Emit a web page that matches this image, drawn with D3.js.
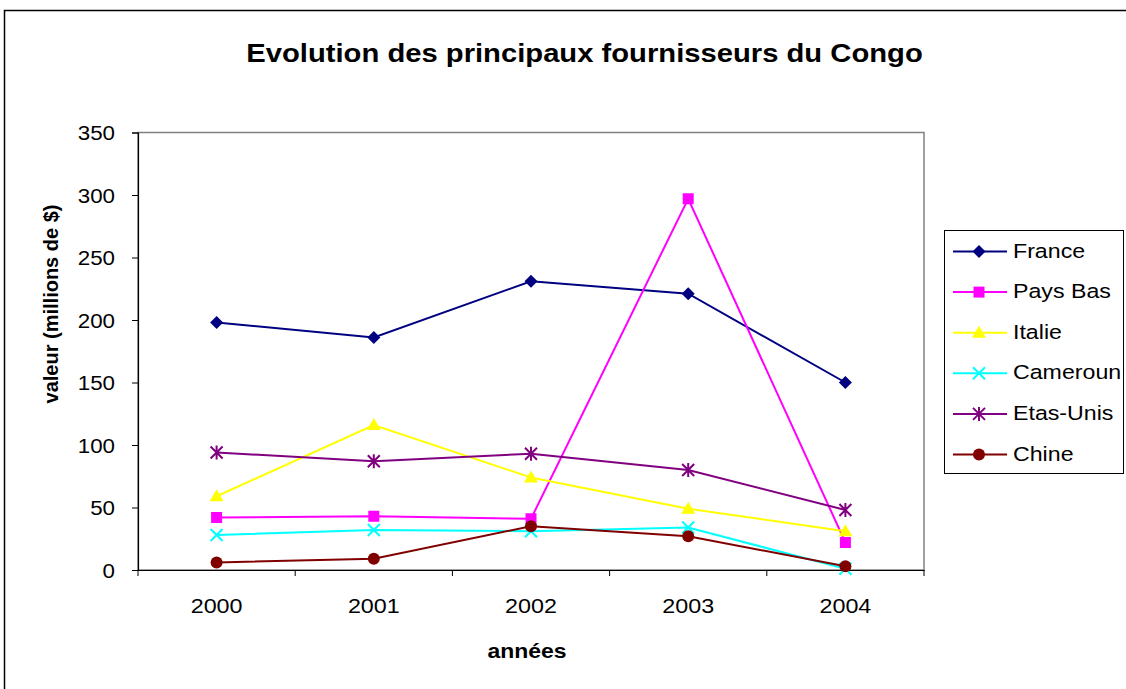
<!DOCTYPE html>
<html><head><meta charset="utf-8">
<script src="https://cdn.jsdelivr.net/npm/d3@7"></script>
<style>body{margin:0;background:#fff}svg{display:block;font-family:"Liberation Sans",Arial,sans-serif}</style>
</head><body><svg id="c" width="1126" height="689"></svg>
<script>
const years = ["2000","2001","2002","2003","2004"];
const yTicks = [0,50,100,150,200,250,300,350];
const france = [198,186,231,221,150];
const paysBas = [42,43,41,297,22];
const italie = [59,116,74,49,31];
const cameroun = [28,32,31,34,1];
const etatsUnis = [94,87,93,80,48];
const chine = [6,9,35,27,3];
const seriesNames = ["France","Pays Bas","Italie","Cameroun","Etas-Unis","Chine"];
const seriesValues = [france,paysBas,italie,cameroun,etatsUnis,chine];
const colors = ["#000080","#FF00FF","#FFFF00","#00FFFF","#800080","#800000"];
const markers = ["diamond","square","triangle","x","star","circle"];

function stretch(sel, k){
  sel.each(function(){
    const len = this.getComputedTextLength();
    d3.select(this).attr("textLength", len*k).attr("lengthAdjust","spacingAndGlyphs");
  });
}

const svg = d3.select("#c");
svg.append("rect").attr("x",4.5).attr("y",10.5).attr("width",1140).attr("height",700)
  .attr("fill","#fff").attr("stroke","#000").attr("stroke-width",1.5);

const L=138, R=924, T=132.5, B=570;
const x = d3.scaleBand().domain(years).range([L,R]);
const y = d3.scaleLinear().domain([0,350]).range([B,T]);

svg.append("rect").attr("x",L).attr("y",T).attr("width",R-L).attr("height",B-T)
  .attr("fill","none").attr("stroke","#808080").attr("stroke-width",1.5);

const title = svg.append("text").attr("x",584.5).attr("y",62).attr("text-anchor","middle")
  .attr("font-size",25.5).attr("font-weight","bold").text("Evolution des principaux fournisseurs du Congo");
stretch(title, 1.145);

const yAx = svg.append("g").attr("transform",`translate(${L},0)`)
  .call(d3.axisLeft(y).tickValues(yTicks).tickSize(6).tickPadding(17));
yAx.selectAll("text").attr("font-size",20.5).attr("font-family","Liberation Sans, Arial").attr("fill","#000").attr("dy","0.36em");
stretch(yAx.selectAll("text"), 1.09);
yAx.select(".domain").attr("stroke","#000").attr("stroke-width",1.2);
yAx.selectAll("line").attr("stroke","#000");

const xAx = svg.append("g").attr("transform",`translate(0,${B})`)
  .call(d3.axisBottom(x).tickSize(0).tickPadding(28));
xAx.selectAll("text").attr("font-size",21).attr("font-family","Liberation Sans, Arial").attr("fill","#000");
stretch(xAx.selectAll("text"), 1.11);
xAx.select(".domain").attr("stroke","#000").attr("stroke-width",1.2);
const bounds = years.map(d=>x(d)).concat([R]);
svg.append("g").selectAll("line").data(bounds).join("line")
  .attr("x1",d=>d).attr("x2",d=>d).attr("y1",B).attr("y2",B+6).attr("stroke","#000");

svg.append("text").attr("transform","translate(58,304) rotate(-90)").attr("text-anchor","middle")
  .attr("font-size",20).attr("font-weight","bold").text("valeur (millions de $)");
const xl = svg.append("text").attr("x",527).attr("y",658).attr("text-anchor","middle")
  .attr("font-size",20.5).attr("font-weight","bold").text("années");
stretch(xl, 1.12);

function drawMarker(g, type, cx, cy, col){
  if(type==="diamond") g.append("path").attr("d",`M${cx},${cy-6.5}L${cx+6.5},${cy}L${cx},${cy+6.5}L${cx-6.5},${cy}Z`).attr("fill",col);
  else if(type==="square") g.append("rect").attr("x",cx-5.5).attr("y",cy-5.5).attr("width",11).attr("height",11).attr("fill",col);
  else if(type==="triangle") g.append("path").attr("d",`M${cx},${cy-7}L${cx+7},${cy+5}L${cx-7},${cy+5}Z`).attr("fill",col);
  else if(type==="x") g.append("path").attr("d",`M${cx-6},${cy-6}L${cx+6},${cy+6}M${cx-6},${cy+6}L${cx+6},${cy-6}`).attr("stroke",col).attr("stroke-width",2);
  else if(type==="star") g.append("path").attr("d",`M${cx-6},${cy-6}L${cx+6},${cy+6}M${cx-6},${cy+6}L${cx+6},${cy-6}M${cx},${cy-7}L${cx},${cy+7}`).attr("stroke",col).attr("stroke-width",2);
  else if(type==="circle") g.append("circle").attr("cx",cx).attr("cy",cy).attr("r",6).attr("fill",col);
}

const line = d3.line().x((d,i)=>x(years[i])+x.bandwidth()/2).y(d=>y(d));
seriesValues.forEach((vals,si)=>{
  const g = svg.append("g");
  g.append("path").attr("d",line(vals)).attr("fill","none").attr("stroke",colors[si]).attr("stroke-width",2);
  vals.forEach((v,i)=>drawMarker(g,markers[si],x(years[i])+x.bandwidth()/2,y(v),colors[si]));
});

// legend
svg.append("rect").attr("x",944.5).attr("y",230.5).attr("width",179).attr("height",243)
  .attr("fill","#fff").attr("stroke","#000").attr("stroke-width",1);
seriesNames.forEach((n,i)=>{
  const ly = 251.5 + i*40.6;
  const g = svg.append("g");
  g.append("line").attr("x1",953).attr("x2",1007).attr("y1",ly).attr("y2",ly).attr("stroke",colors[i]).attr("stroke-width",2);
  drawMarker(g,markers[i],979,ly,colors[i]);
  const t = g.append("text").attr("x",1013).attr("y",ly+6).attr("font-size",20.5).text(n);
  stretch(t, 1.13);
});
</script></body></html>
